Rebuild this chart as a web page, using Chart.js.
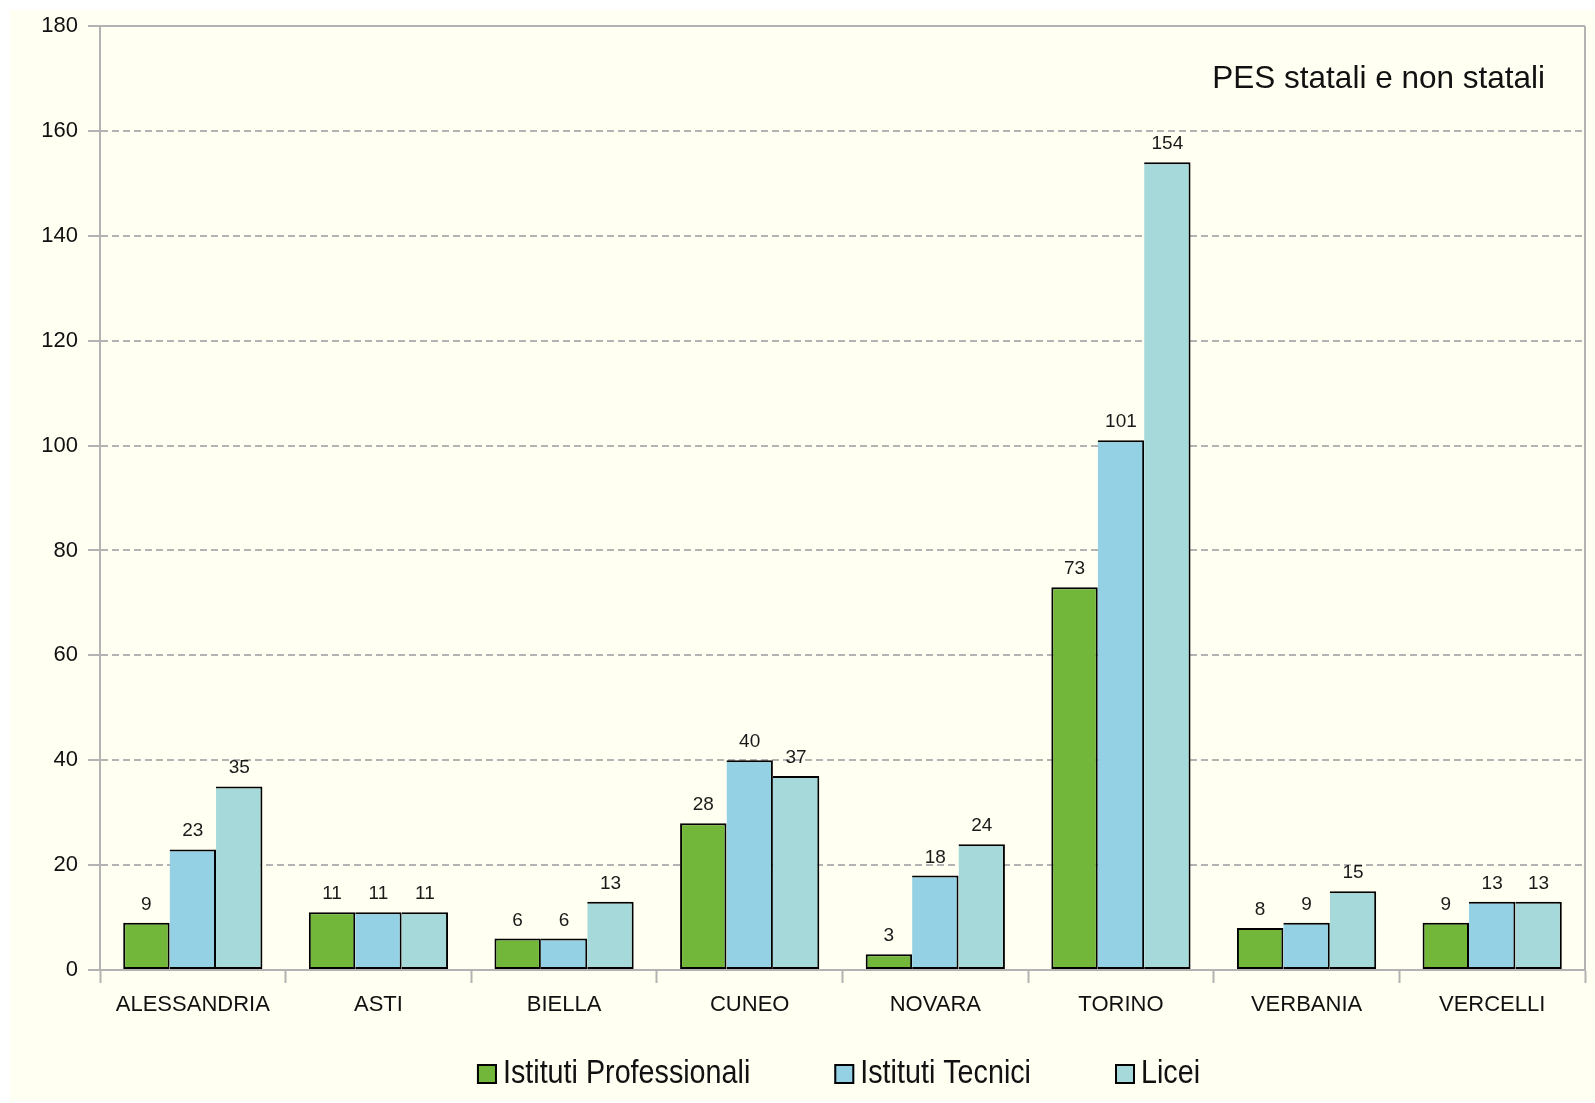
<!DOCTYPE html>
<html><head><meta charset="utf-8">
<script src="https://cdn.jsdelivr.net/npm/chart.js@4/dist/chart.umd.min.js"></script>
<style>
html,body{margin:0;padding:0;background:#ffffff;}
#wrap{position:absolute;left:10px;top:10px;width:1585px;height:1091px;background:#fffff2;}
canvas{display:block;}
</style></head><body>
<div id="wrap"><canvas id="c" width="1585" height="1091"></canvas></div>
<script>
const categories = ['ALESSANDRIA','ASTI','BIELLA','CUNEO','NOVARA','TORINO','VERBANIA','VERCELLI'];
const seriesNames = ['Istituti Professionali','Istituti Tecnici','Licei'];
const professionali = [9, 11, 6, 28, 3, 73, 8, 9];
const tecnici = [23, 11, 6, 40, 18, 101, 9, 13];
const licei = [35, 11, 13, 37, 24, 154, 15, 13];
const yMin = 0, yMax = 180, yStep = 20;
const titleText = 'PES statali e non statali';

const FONT = '"Liberation Sans", Arial, sans-serif';
const GRID = '#b3b3b3';
const colors = ['#73b73a', '#94d1e4', '#a6dada'];
const sideWidths = [
  {left:2, right:2, top:2, bottom:2},
  {left:0, right:2, top:2, bottom:2},
  {left:0, right:2, top:2, bottom:2}
];

const frame = {
  id: 'frame',
  beforeDatasetsDraw(chart) {
    const {ctx, chartArea: a} = chart;
    ctx.save();
    ctx.strokeStyle = GRID; ctx.lineWidth = 2;
    ctx.beginPath();
    ctx.moveTo(a.left, a.top); ctx.lineTo(a.right, a.top);
    ctx.moveTo(a.right, a.top); ctx.lineTo(a.right, a.bottom);
    ctx.stroke();
    ctx.restore();
  }
};

const valueLabels = {
  id: 'valueLabels',
  afterDatasetsDraw(chart) {
    const ctx = chart.ctx;
    ctx.save();
    ctx.font = '19px ' + FONT;
    ctx.fillStyle = '#1a1a1a';
    ctx.textAlign = 'center';
    ctx.textBaseline = 'alphabetic';
    chart.data.datasets.forEach((ds, i) => {
      chart.getDatasetMeta(i).data.forEach((el, j) => {
        ctx.fillText(String(ds.data[j]), el.x, el.y - 13);
      });
    });
    ctx.restore();
  }
};

const titleAndLegend = {
  id: 'titleAndLegend',
  afterDraw(chart) {
    const {ctx, chartArea: a} = chart;
    ctx.save();
    ctx.font = '31.5px ' + FONT;
    ctx.fillStyle = '#111';
    ctx.textAlign = 'right';
    ctx.textBaseline = 'alphabetic';
    ctx.fillText(titleText, a.right - 40, a.top + 62);
    const fs = 33, sx = 0.87, box = 20, gapBox = 6, gapItem = 84;
    ctx.font = fs + 'px ' + FONT;
    const widths = chart.data.datasets.map(d => ctx.measureText(d.label).width * sx);
    const total = widths.reduce((s, w) => s + box + gapBox + w, 0) + gapItem * (widths.length - 1);
    let x = (a.left + a.right) / 2 - 4 - total / 2;
    const boxTop = a.bottom + 94;
    const baseline = boxTop + 19;
    chart.data.datasets.forEach((d, i) => {
      ctx.fillStyle = d.backgroundColor;
      ctx.fillRect(x, boxTop, box, box);
      ctx.strokeStyle = '#000'; ctx.lineWidth = 2;
      ctx.strokeRect(x + 1, boxTop + 1, box - 2, box - 2);
      ctx.save();
      ctx.translate(x + box + gapBox, baseline);
      ctx.scale(sx, 1);
      ctx.fillStyle = '#111';
      ctx.textAlign = 'left';
      ctx.fillText(d.label, 0, 0);
      ctx.restore();
      x += box + gapBox + widths[i] + gapItem;
    });
    ctx.restore();
  }
};

const series = [professionali, tecnici, licei];
new Chart(document.getElementById('c'), {
  type: 'bar',
  data: {
    labels: categories,
    datasets: series.map((arr, i) => ({
      label: seriesNames[i],
      data: arr,
      backgroundColor: colors[i],
      borderColor: '#000',
      borderWidth: sideWidths[i],
      borderSkipped: false,
      categoryPercentage: 0.75,
      barPercentage: 1.0
    }))
  },
  options: {
    responsive: false,
    animation: false,
    devicePixelRatio: 1,
    layout: {padding: {top: 16, right: 10, left: 0, bottom: 0}},
    plugins: {legend: {display: false}, tooltip: {enabled: false}, title: {display: false}},
    scales: {
      x: {
        grid: {drawOnChartArea: false, offset: true, tickLength: 13, tickWidth: 2, tickColor: GRID, color: GRID},
        border: {color: GRID, width: 2},
        ticks: {font: {size: 22, family: FONT}, color: '#111', padding: 9, maxRotation: 0, autoSkip: false},
        afterFit(s) { s.height = 131; s.paddingLeft = 0; s.paddingRight = 0; }
      },
      y: {
        min: yMin, max: yMax,
        grid: {color: GRID, lineWidth: 2, tickLength: 12, tickWidth: 2, tickColor: GRID, tickBorderDash: []},
        border: {color: GRID, width: 2, dash: [7, 4]},
        ticks: {stepSize: yStep, font: {size: 22, family: FONT}, color: '#111', padding: 10},
        afterFit(s) { s.width = 90; s.paddingTop = 0; s.paddingBottom = 0; }
      }
    }
  },
  plugins: [frame, valueLabels, titleAndLegend]
});
</script>
</body></html>
